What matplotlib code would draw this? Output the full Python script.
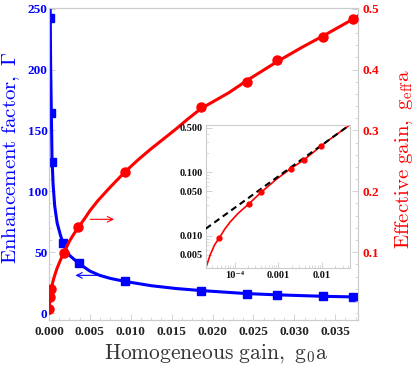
import matplotlib
matplotlib.use("Agg")
import matplotlib.pyplot as plt
from matplotlib.ticker import FixedLocator, MultipleLocator, FuncFormatter, NullFormatter, LogLocator

plt.rcParams['mathtext.fontset'] = 'cm'
plt.rcParams['font.family'] = ['Liberation Serif', 'DejaVu Serif']
plt.rcParams['font.weight'] = 'bold'

# ========== Data ==========
# measured points
g0_blue = [0.00017, 0.00029, 0.00037, 0.0017, 0.0037, 0.0093, 0.0186, 0.0242, 0.0279, 0.0335, 0.0372]
gamma_blue = [242, 164, 124, 57.8, 41, 26.3, 18.3, 15.6, 14.8, 13.7, 13.3]

g0_red = [0.00003, 0.00017, 0.0003, 0.0018, 0.0036, 0.0093, 0.0186, 0.0242, 0.0279, 0.0335, 0.0372]
geff_red = [0.0065, 0.027, 0.040, 0.099, 0.141, 0.232, 0.338, 0.380, 0.415, 0.454, 0.483]

# theory curves, sampled along the drawn lines
curve_g0_blue = [0.00015, 0.0002, 0.00029, 0.00037, 0.0005, 0.0007, 0.001, 0.0014, 0.0018,
                 0.0025, 0.0036, 0.005, 0.0062, 0.0075, 0.0093, 0.0125, 0.0155, 0.0186,
                 0.0242, 0.0279, 0.0335, 0.0378]
curve_gamma = [250.5, 205, 164, 128, 106, 88, 74, 64, 56,
               47.5, 41, 34.5, 31, 28.5, 26, 22.5, 20.2, 18.5,
               16, 15, 13.8, 13.2]

curve_g0_red = [0.0, 0.00001, 0.00003, 0.0001, 0.0002, 0.0003, 0.0005, 0.00075, 0.001, 0.0014,
                0.0018, 0.0025, 0.003, 0.0036, 0.0043, 0.005, 0.006, 0.0075, 0.0093, 0.011,
                0.0125, 0.014, 0.0155, 0.017, 0.0186, 0.022, 0.0242, 0.0279, 0.031, 0.0335,
                0.0372, 0.0378]
curve_geff = [0.0, 0.003, 0.0075, 0.02, 0.031, 0.040, 0.053, 0.064, 0.074, 0.087,
              0.099, 0.118, 0.129, 0.141, 0.154, 0.168, 0.185, 0.207, 0.232, 0.253,
              0.270, 0.286, 0.302, 0.319, 0.336, 0.362, 0.382, 0.413, 0.437, 0.455,
              0.483, 0.488]

# inset (log-log)
inset_g0 = [4.5e-5, 2.1e-4, 4.0e-4, 1.9e-3, 3.8e-3, 9.3e-3]
inset_geff = [0.0093, 0.0316, 0.048, 0.114, 0.156, 0.257]
inset_curve_g0 = [2.2e-5, 2.77e-5, 3.5e-5, 4.5e-5, 6e-5, 7.9e-5, 1.2e-4, 2.1e-4, 4.0e-4, 9.1e-4,
                  1.9e-3, 3.8e-3, 9.3e-3, 1.48e-2, 4.3e-2]
inset_curve_geff = [0.0031, 0.005, 0.0072, 0.0093, 0.0128, 0.0164, 0.0225, 0.0316, 0.048, 0.078,
                    0.114, 0.156, 0.257, 0.328, 0.56]
inset_dash_g0 = [2.2e-5, 4.3e-2]
inset_dash_geff = [0.0129, 0.56]

xticks = [0.0, 0.005, 0.010, 0.015, 0.020, 0.025, 0.030, 0.035]
left_ticks = [0, 50, 100, 150, 200, 250]
right_ticks = [0.1, 0.2, 0.3, 0.4, 0.5]
inset_yticks = [0.005, 0.01, 0.05, 0.1, 0.5]
inset_xticks = [1e-4, 1e-3, 1e-2]
inset_xlabels = ['10\u207b\u2074', '0.001', '0.01']

BLUE = '#0000ff'
RED = '#ff0000'
FRAME = '#cccccc'


def fmt(f):
    return FuncFormatter(lambda v, p: f % v)


def style_ticks(ax):
    ax.tick_params(which='both', direction='in', color=FRAME)
    ax.tick_params(which='major', length=4, width=0.6)
    ax.tick_params(which='minor', length=2, width=0.5)
    for s in ax.spines.values():
        s.set_color(FRAME)
        s.set_linewidth(0.8)


# ========== Figure ==========
fig = plt.figure(figsize=(4.15, 3.65), dpi=100)
ax = fig.add_axes([0.118, 0.123, 0.745, 0.855])
ax2 = ax.twinx()

ax.plot(curve_g0_blue, curve_gamma, color=BLUE, lw=2.2, zorder=3)
ax.plot(g0_blue, gamma_blue, 's', color=BLUE, ms=5.5, zorder=4)
ax2.plot(curve_g0_red, curve_geff, color=RED, lw=2.2, zorder=3)
ax2.plot(g0_red, geff_red, 'o', color=RED, ms=6.5, zorder=4)

ax.set_xlim(0, 0.0378)
ax.set_ylim(-5.75, 250.5)
ax2.set_ylim(-0.0115, 0.501)

ax.xaxis.set_major_locator(FixedLocator(xticks))
ax.xaxis.set_minor_locator(MultipleLocator(0.00125))
ax.xaxis.set_major_formatter(fmt('%.3f'))
ax.yaxis.set_major_locator(FixedLocator(left_ticks))
ax.yaxis.set_minor_locator(MultipleLocator(10))
ax.yaxis.set_major_formatter(fmt('%d'))
ax2.yaxis.set_major_locator(FixedLocator(right_ticks))
ax2.yaxis.set_minor_locator(MultipleLocator(0.02))
ax2.yaxis.set_major_formatter(fmt('%.1f'))

style_ticks(ax)
style_ticks(ax2)
ax.tick_params(axis='x', labelsize=9.5, labelcolor='#222222', pad=4)
ax.tick_params(axis='y', labelsize=9.5, labelcolor=BLUE, pad=1)
ax2.tick_params(axis='y', labelsize=9.5, labelcolor=RED, pad=3)

ax.set_xlabel(r'$\mathrm{Homogeneous\ gain,\ g_0a}$', fontsize=15.5, color='#333333')
ax.xaxis.set_label_coords(0.54, -0.072)
ax.set_ylabel(r'$\mathrm{Enhancement\ factor,\ \Gamma}$', fontsize=15, color=BLUE)
ax.yaxis.set_label_coords(-0.088, 0.52)
ax2.set_ylabel(r'$\mathrm{Effective\ gain,\ g_{eff}a}$', fontsize=15, color=RED, rotation=90)
ax2.yaxis.set_label_coords(1.113, 0.516)

# direction arrows
ax.annotate('', xy=(0.0083, 77), xytext=(0.0047, 77),
            arrowprops=dict(arrowstyle='->', color=RED, lw=0.8))
ax.annotate('', xy=(0.0029, 31), xytext=(0.0062, 31),
            arrowprops=dict(arrowstyle='->', color=BLUE, lw=0.8))

# ========== Inset ==========
axi = fig.add_axes([0.496, 0.266, 0.347, 0.392])
axi.set_xscale('log')
axi.set_yscale('log')
axi.plot(inset_dash_g0, inset_dash_geff, color='black', lw=1.5, ls=(0, (3, 2)), zorder=3)
axi.plot(inset_curve_g0, inset_curve_geff, color=RED, lw=1.2, zorder=2)
axi.plot(inset_g0, inset_geff, 'o', color=RED, ms=3.5, zorder=4)
axi.set_xlim(2.2e-5, 4.3e-2)
axi.set_ylim(0.0031, 0.56)
axi.xaxis.set_major_locator(FixedLocator(inset_xticks))
axi.set_xticklabels(inset_xlabels)
axi.xaxis.set_minor_locator(LogLocator(base=10, subs=range(2, 10)))
axi.xaxis.set_minor_formatter(NullFormatter())
axi.yaxis.set_major_locator(FixedLocator(inset_yticks))
axi.yaxis.set_major_formatter(fmt('%.3f'))
axi.yaxis.set_minor_locator(LogLocator(base=10, subs=range(2, 10)))
axi.yaxis.set_minor_formatter(NullFormatter())
style_ticks(axi)
axi.tick_params(labelsize=7.5, labelcolor='#111111', pad=2)

fig.savefig('out.png', dpi=100)
